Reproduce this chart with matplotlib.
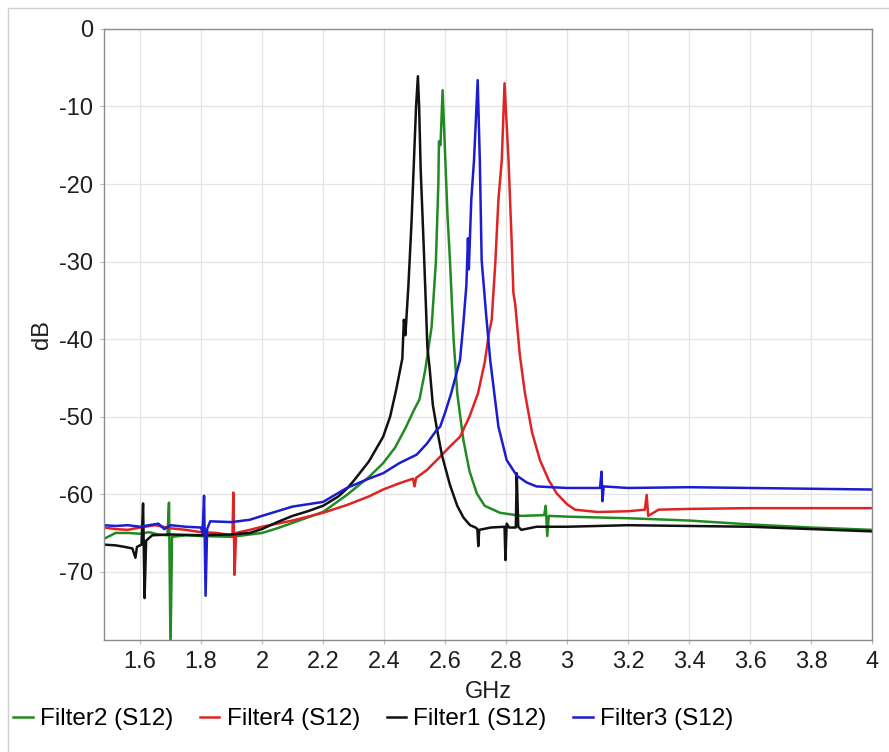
import matplotlib
matplotlib.use('Agg')
import matplotlib.pyplot as plt
from matplotlib.patches import Rectangle

# values (GHz, dB)
f1_x = [1.48, 1.52, 1.55, 1.575, 1.585, 1.59, 1.605, 1.61, 1.615, 1.62, 1.64, 1.7, 1.8,
        1.9, 1.96, 2.0, 2.05, 2.1, 2.15, 2.2, 2.25, 2.278, 2.3, 2.35, 2.397, 2.42, 2.44,
        2.46, 2.465, 2.47, 2.48, 2.49, 2.5, 2.505, 2.511, 2.515, 2.52, 2.53, 2.538, 2.542,
        2.55, 2.56, 2.573, 2.59, 2.616, 2.64, 2.66, 2.682, 2.7, 2.706, 2.709, 2.712, 2.75,
        2.795, 2.798, 2.802, 2.81, 2.832, 2.835, 2.84, 2.85, 2.9, 3.0, 3.2, 3.4, 3.6, 3.8, 4.0]
f1_y = [-66.5, -66.6, -66.8, -67.0, -68.2, -66.8, -66.5, -61.2, -73.4, -66.0, -65.3, -65.2, -65.3,
        -65.2, -65.0, -64.5, -63.6, -62.8, -62.2, -61.5, -60.3, -59.3, -58.3, -55.8, -52.6, -50.0, -46.5,
        -42.5, -37.5, -39.5, -33.0, -25.0, -15.0, -10.0, -6.1, -10.0, -18.0, -28.0, -36.5, -41.0,
        -44.0, -48.5, -51.5, -55.0, -58.8, -61.5, -63.0, -64.0, -64.3, -64.5, -66.7, -64.6, -64.3,
        -64.2, -68.5, -63.8, -64.3, -64.3, -57.3, -64.2, -64.6, -64.2, -64.2, -64.0, -64.1, -64.2, -64.5, -64.8]

f2_x = [1.48, 1.5, 1.52, 1.56, 1.6, 1.63, 1.66, 1.69, 1.695, 1.7, 1.705, 1.75, 1.8, 1.9,
        2.0, 2.05, 2.1, 2.15, 2.2, 2.278, 2.35, 2.397, 2.436, 2.47, 2.5, 2.516, 2.535, 2.556,
        2.57, 2.578, 2.58, 2.585, 2.592, 2.6, 2.608, 2.616, 2.628, 2.64, 2.66, 2.68, 2.704,
        2.73, 2.78, 2.85, 2.925, 2.93, 2.935, 2.94, 3.0, 3.2, 3.4, 3.6, 3.8, 4.0]
f2_y = [-65.8, -65.4, -65.0, -65.0, -65.1, -64.9, -65.2, -65.3, -61.1, -80.0, -65.5, -65.3, -65.4, -65.5,
        -65.0, -64.4, -63.7, -63.0, -62.3, -60.1, -57.8, -56.0, -54.0, -51.5, -49.0, -47.8, -44.0, -38.4,
        -30.0, -20.0, -14.5, -15.0, -7.9, -16.0, -24.0, -29.8, -40.0, -47.0, -53.0, -57.0, -59.9,
        -61.5, -62.4, -62.8, -62.7, -61.5, -65.4, -62.8, -62.9, -63.1, -63.4, -63.9, -64.3, -64.6]

f3_x = [1.48, 1.52, 1.56, 1.6, 1.63, 1.66, 1.68, 1.7, 1.75, 1.8, 1.805, 1.81, 1.815, 1.82,
        1.83, 1.9, 1.96, 2.0, 2.05, 2.1, 2.2, 2.278, 2.35, 2.397, 2.45, 2.507, 2.54, 2.573,
        2.584, 2.6, 2.62, 2.649, 2.66, 2.67, 2.675, 2.678, 2.686, 2.695, 2.707, 2.714, 2.72,
        2.735, 2.748, 2.775, 2.802, 2.835, 2.868, 2.9, 3.0, 3.108, 3.113, 3.116, 3.12, 3.2,
        3.4, 3.6, 3.8, 4.0]
f3_y = [-64.0, -64.1, -64.0, -64.2, -64.0, -63.8, -64.5, -64.0, -64.2, -64.3, -65.0, -60.2, -73.1, -64.5,
        -63.5, -63.6, -63.3, -62.8, -62.2, -61.6, -61.0, -59.2, -58.0, -57.3, -56.0, -54.9, -53.5, -51.7,
        -51.3, -49.5, -47.0, -42.7, -38.0, -33.0, -27.0, -31.0, -22.0, -16.9, -6.6, -17.0, -29.8,
        -37.0, -42.7, -51.3, -55.6, -57.6, -58.5, -59.0, -59.2, -59.2, -57.1, -60.9, -59.0, -59.2,
        -59.1, -59.2, -59.3, -59.4]

f4_x = [1.48, 1.52, 1.56, 1.6, 1.65, 1.7, 1.75, 1.8, 1.85, 1.9, 1.903, 1.906, 1.91, 1.915,
        1.96, 2.0, 2.1, 2.2, 2.278, 2.35, 2.397, 2.45, 2.495, 2.5, 2.505, 2.54, 2.573, 2.62,
        2.649, 2.68, 2.708, 2.73, 2.745, 2.753, 2.765, 2.775, 2.786, 2.795, 2.808, 2.818, 2.824,
        2.83, 2.845, 2.862, 2.885, 2.911, 2.94, 2.966, 3.0, 3.026, 3.1, 3.2, 3.255, 3.261,
        3.266, 3.3, 3.4, 3.6, 3.8, 4.0]
f4_y = [-64.3, -64.5, -64.6, -64.3, -64.0, -64.4, -64.6, -64.9, -65.0, -65.3, -65.5, -59.8, -70.4, -65.0,
        -64.6, -64.2, -63.4, -62.4, -61.4, -60.3, -59.4, -58.6, -58.0, -59.0, -57.9, -56.9, -55.6, -53.7,
        -52.6, -50.0, -47.0, -43.0, -39.0, -37.5, -30.0, -22.0, -16.9, -7.0, -16.9, -27.0, -34.0,
        -35.5, -42.0, -47.0, -52.0, -55.6, -58.2, -59.9, -61.3, -62.0, -62.3, -62.2, -62.0, -60.1,
        -62.8, -62.0, -61.9, -61.8, -61.8, -61.8]

x_ticks = [1.6, 1.8, 2.0, 2.2, 2.4, 2.6, 2.8, 3.0, 3.2, 3.4, 3.6, 3.8, 4.0]
y_ticks = [0, -10, -20, -30, -40, -50, -60, -70]

plt.rcParams['font.family'] = ['Liberation Sans', 'DejaVu Sans']
plt.rcParams['axes.unicode_minus'] = False

fig = plt.figure(figsize=(8.89, 7.52), dpi=100)
ax = fig.add_axes([0.117, 0.149, 0.864, 0.8125])

# order as in the legend, blue drawn last
ax.plot(f2_x, f2_y, color='#238a23', lw=1.8, label='Filter2 (S12)')
ax.plot(f4_x, f4_y, color='#de2424', lw=1.8, label='Filter4 (S12)')
ax.plot(f1_x, f1_y, color='#111111', lw=1.8, label='Filter1 (S12)')
ax.plot(f3_x, f3_y, color='#1c1cd0', lw=1.8, label='Filter3 (S12)')

ax.set_xlim(1.482, 4.0)
ax.set_ylim(-78.8, 0)
ax.set_xticks(x_ticks)
ax.set_xticklabels(['%g' % v for v in x_ticks])
ax.set_yticks(y_ticks)
ax.grid(True, color='#e4e4e4', lw=0.9)
ax.set_axisbelow(True)
for s in ax.spines.values():
    s.set_color('#8c8c8c')
    s.set_linewidth(1.0)
ax.tick_params(length=3, color='#bbbbbb', labelsize=17, labelcolor='#1e1e1e', pad=5)

ax.set_xlabel('GHz', fontsize=17, color='#1e1e1e', labelpad=6)
ax.set_ylabel('dB', fontsize=17, color='#1e1e1e', labelpad=4)

fig.legend(loc='center left', bbox_to_anchor=(0.004, 1 - 719 / 752), ncol=4,
           frameon=False, fontsize=17.5, handlelength=0.8, handletextpad=0.3,
           columnspacing=1.1, borderaxespad=0)

# light frame round the picture (left and top edges show in the reference)
fig.patches.append(Rectangle((8 / 889, -0.05), 1.2, 1.05 - 8 / 752,
                             transform=fig.transFigure, fill=False,
                             edgecolor='#cfcfcf', lw=1.0))

fig.savefig('out.png', dpi=100)
